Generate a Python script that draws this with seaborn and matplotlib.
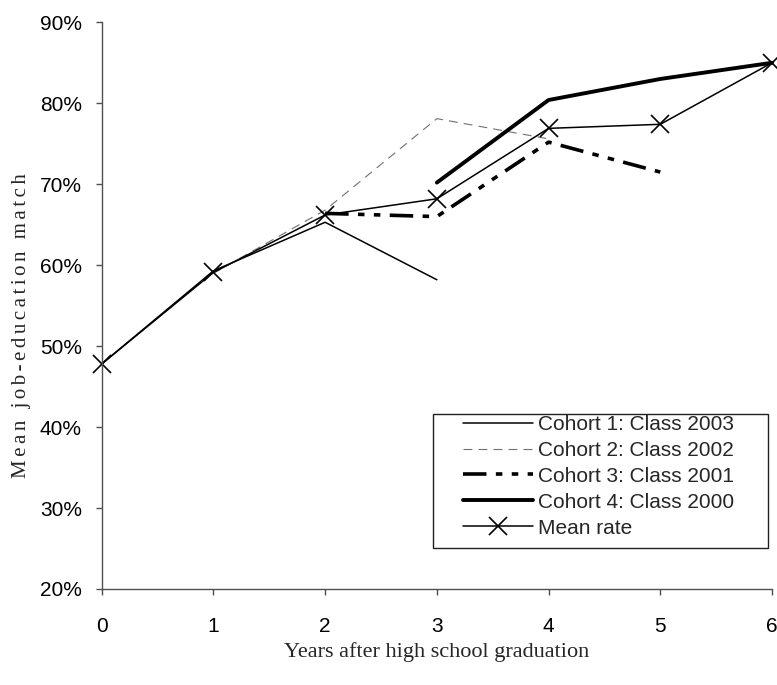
import matplotlib
matplotlib.use("Agg")
import matplotlib.pyplot as plt
import seaborn as sns
import pandas as pd
from matplotlib.ticker import PercentFormatter
from matplotlib.patches import Rectangle

# Job-education match (%) by years after high school graduation
years_c1 = [0, 1, 2, 3]
match_c1 = [47.8, 59.3, 65.3, 58.2]
years_c2 = [1, 2, 3, 4]
match_c2 = [59.0, 66.8, 78.1, 75.6]
years_c3 = [2, 3, 4, 5]
match_c3 = [66.4, 66.0, 75.2, 71.5]
years_c4 = [3, 4, 5, 6]
match_c4 = [70.2, 80.4, 83.0, 85.0]
years_mean = [0, 1, 2, 3, 4, 5, 6]
match_mean = [47.8, 59.1, 66.2, 68.2, 76.9, 77.4, 85.0]

series_labels = ["Cohort 1: Class 2003", "Cohort 2: Class 2002",
                 "Cohort 3: Class 2001", "Cohort 4: Class 2000", "Mean rate"]
x_ticks = [0, 1, 2, 3, 4, 5, 6]
y_ticks = [20, 30, 40, 50, 60, 70, 80, 90]
x_title = "Years after high school graduation"
y_title = "Mean job-education match"

sns.set_theme(style="ticks")
plt.rcParams["font.family"] = ["Liberation Sans", "DejaVu Sans"]

W, H = 777, 685
fig = plt.figure(figsize=(W / 100, H / 100), dpi=100)
ax = fig.add_axes([101.7 / W, 1 - 589 / H, 670.3 / W, 566.7 / H])

styles = [
    dict(x=years_c1, y=match_c1, color="black", linewidth=1.1, linestyle="-"),
    dict(x=years_c2, y=match_c2, color="#707070", linewidth=0.8, linestyle=(0, (8, 5.5))),
    dict(x=years_c3, y=match_c3, color="black", linewidth=2.6,
         linestyle=(0, (6.5, 2.6, 1.8, 2.6, 1.8, 2.6))),
    dict(x=years_c4, y=match_c4, color="black", linewidth=2.8, linestyle="-"),
]
for st, lab in zip(styles, series_labels[:4]):
    df = pd.DataFrame({"year": st.pop("x"), "match": st.pop("y")})
    sns.lineplot(data=df, x="year", y="match", ax=ax, label=lab,
                 clip_on=False, **st)

df_mean = pd.DataFrame({"year": years_mean, "match": match_mean})
sns.lineplot(data=df_mean, x="year", y="match", ax=ax, label=series_labels[4],
             color="black", linewidth=1.1, marker="x", markersize=13,
             markeredgewidth=1.2, markeredgecolor="black", clip_on=False)

ax.set_xlim(0, 6)
ax.set_ylim(20, 90)
ax.set_xticks(x_ticks)
ax.set_yticks(y_ticks)
ax.yaxis.set_major_formatter(PercentFormatter(xmax=100, decimals=0))

sns.despine(ax=ax)
for side in ("left", "bottom"):
    ax.spines[side].set_color("#505050")
    ax.spines[side].set_linewidth(1.0)
ax.tick_params(direction="out", length=4.5, width=1.0, color="#505050",
               labelsize=15, labelcolor="black")
ax.tick_params(axis="x", pad=15.8)
ax.tick_params(axis="y", pad=9.8)

ax.set_xlabel(x_title, family=["Liberation Serif", "DejaVu Serif"],
              fontsize=16, va="center")
ax.xaxis.set_label_coords(0.5, (589 - 652) / 566.7)
# loosely tracked vertical title: two hair spaces between the letters
tracked = "\u200a\u200a".join(y_title)
ax.set_ylabel(tracked, family=["Liberation Serif", "DejaVu Serif"],
              fontsize=15, va="center")
ax.yaxis.set_label_coords((22 - 101.7) / 670.3, (589 - 326) / 566.7)

handles, labels = ax.get_legend_handles_labels()
ax.legend(handles, labels, loc="upper left",
          bbox_to_anchor=(462.7 / W, 1 - 415 / H), bbox_transform=fig.transFigure,
          frameon=False, borderpad=0, borderaxespad=0, fontsize=15,
          handlelength=3.36, handletextpad=0.27, labelspacing=0.33)
fig.add_artist(Rectangle((433 / W, 1 - 548 / H), (768 - 433) / W, (548 - 414) / H,
                         transform=fig.transFigure, fill=False,
                         edgecolor="#202020", linewidth=1.0))

fig.savefig("out.png", dpi=100)
